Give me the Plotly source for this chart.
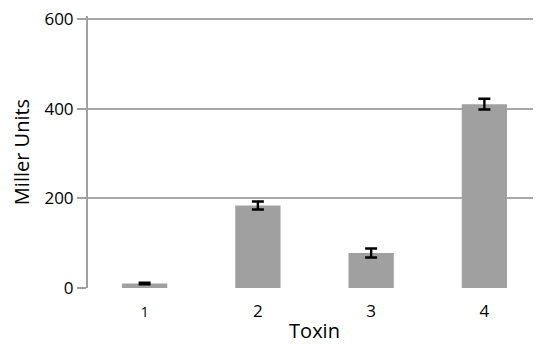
import plotly.graph_objects as go

categories = ["1", "2", "3", "4"]
values = [10, 184, 78, 410]
errors = [2, 9, 10, 12]
y_ticks = [0, 200, 400, 600]

tick_text = ['<span style="font-size:14px">1</span>', "2", "3", "4"]

fig = go.Figure(
    go.Bar(
        x=categories,
        y=values,
        marker=dict(color="#a0a0a0", line=dict(width=0)),
        error_y=dict(type="data", array=errors, color="black", thickness=2.4, width=6),
        width=0.4,
    )
)

# the page body adds an 8px margin, so the figure is offset by 8px
font_family = "Open Sans, Lato, sans-serif"
fig.update_layout(
    width=533,
    height=336,
    margin=dict(l=80, r=0, t=8, b=56),
    paper_bgcolor="white",
    plot_bgcolor="white",
    showlegend=False,
    font=dict(family=font_family, color="black", size=18),
)
fig.update_xaxes(
    type="category",
    tickvals=categories,
    ticktext=tick_text,
    showline=False,
    ticks="outside",
    ticklen=8,
    tickcolor="rgba(0,0,0,0)",
    showgrid=False,
    automargin=False,
    tickfont=dict(size=17),
    title=dict(text="Toxin", font=dict(size=20), standoff=15),
)
fig.update_yaxes(
    range=[0, 606.5],
    tickvals=y_ticks,
    showline=True,
    linecolor="#a0a0a0",
    linewidth=2,
    ticks="outside",
    ticklen=9,
    tickwidth=2,
    tickcolor="#a0a0a0",
    ticklabeloverflow="allow",
    showgrid=True,
    gridcolor="#a8a8a8",
    gridwidth=2,
    zeroline=False,
    automargin=False,
    tickfont=dict(size=17),
    title=dict(text="Miller Units", font=dict(size=20), standoff=12),
)

fig.write_html("out.html")
